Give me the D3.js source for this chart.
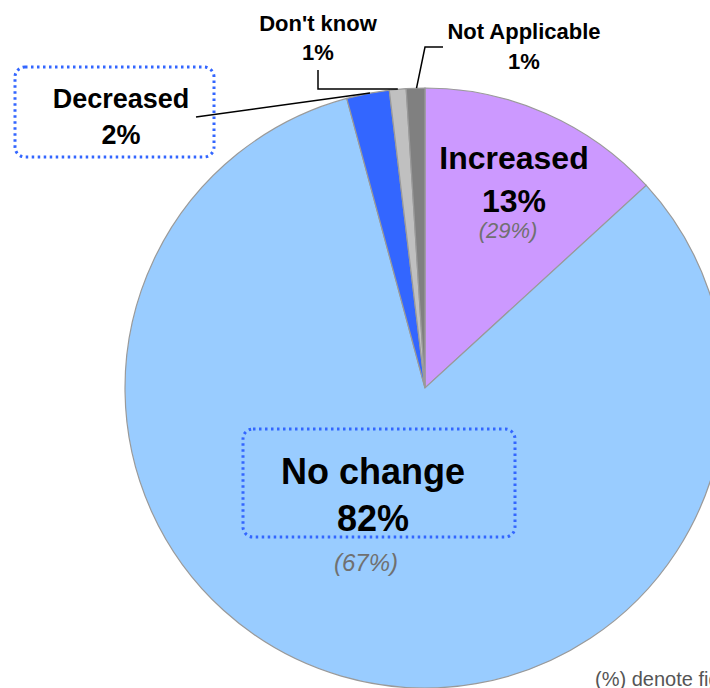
<!DOCTYPE html>
<html>
<head>
<meta charset="utf-8">
<script src="https://cdn.jsdelivr.net/npm/d3@7"></script>
<style>
    body { margin: 0; background: #fff; }
    svg { display: block; font-family: "Liberation Sans", Arial, sans-serif; }
</style>
</head>
<body>
<div id="chart"></div>
<script>
// data (clockwise from 12 o'clock)
const categories = ["Increased", "No change", "Decreased", "Don't know", "Not Applicable"];
const values = [13.2, 82.6, 2.3, 0.9, 1.0];
const shownPct = ["13%", "82%", "2%", "1%", "1%"];
const previousPct = ["(29%)", "(67%)", null, null, null];
const colors = ["#CC99FF", "#99CCFF", "#3366FF", "#C0C0C0", "#808080"];

const width = 710, height = 688;
const cx = 425, cy = 388, radius = 300;

const svg = d3.select("#chart").append("svg")
    .attr("width", width)
    .attr("height", height);

const slices = categories.map((c, i) => ({name: c, value: values[i], color: colors[i]}));

const pie = d3.pie().sort(null).value(d => d.value);
const arc = d3.arc().innerRadius(0).outerRadius(radius);
const arcs = pie(slices);

const g = svg.append("g").attr("transform", `translate(${cx},${cy})`);

g.selectAll("path")
    .data(arcs)
    .join("path")
    .attr("d", arc)
    .attr("fill", d => d.data.color)
    .attr("stroke", "#9a9a9a")
    .attr("stroke-width", 1.2);

// point on the rim at a fraction through a slice
function rim(i, t, r) {
    let a = arcs[i].startAngle + (arcs[i].endAngle - arcs[i].startAngle) * t;
    return [cx + Math.sin(a) * r, cy - Math.cos(a) * r];
}

// leader lines
let pDec = rim(2, 0.55, radius);
let pDk = rim(3, 0.5, radius - 1);
let pNa = rim(4, 0.55, radius);
const leaders = [
    [[196, 117], pDec],
    [[318, 70], [318, 89], [pDk[0], 89]],
    [pNa, [425, 47], [443, 47]]
];
svg.selectAll(".leader")
    .data(leaders)
    .join("path")
    .attr("class", "leader")
    .attr("d", d => d3.line()(d))
    .attr("fill", "none")
    .attr("stroke", "#000")
    .attr("stroke-width", 1.5);

// dotted boxes
const boxes = [
    {x: 15, y: 67, w: 199, h: 90},
    {x: 243, y: 429, w: 272, h: 108}
];
svg.selectAll(".box")
    .data(boxes)
    .join("rect")
    .attr("class", "box")
    .attr("x", d => d.x).attr("y", d => d.y)
    .attr("width", d => d.w).attr("height", d => d.h)
    .attr("rx", 10).attr("ry", 10)
    .attr("fill", "none")
    .attr("stroke", "#3366FF")
    .attr("stroke-width", 3)
    .attr("stroke-dasharray", "2.5 3.5");

// labels
const labels = [
    {i: 0, x: 514, y1: 169, y2: 212, size: 32, px: 508, py: 238, psize: 22},
    {i: 1, x: 373, y1: 484, y2: 531, size: 36, px: 366, py: 571, psize: 24},
    {i: 2, x: 121, y1: 108, y2: 144, size: 27},
    {i: 3, x: 318, y1: 31, y2: 60, size: 22},
    {i: 4, x: 524, y1: 39, y2: 69, size: 22}
];

labels.forEach(l => {
    let t = svg.append("text")
        .attr("text-anchor", "middle")
        .attr("font-weight", "bold")
        .attr("font-size", l.size)
        .attr("fill", "#000");
    t.append("tspan").attr("x", l.x).attr("y", l.y1).text(categories[l.i]);
    t.append("tspan").attr("x", l.x).attr("y", l.y2).text(shownPct[l.i]);

    if (previousPct[l.i]) {
        svg.append("text")
            .attr("x", l.px).attr("y", l.py)
            .attr("text-anchor", "middle")
            .attr("font-style", "italic")
            .attr("font-size", l.psize)
            .attr("fill", "#707070")
            .text(previousPct[l.i]);
    }
});

// footnote (runs off the right edge, as in the original)
svg.append("text")
    .attr("x", 595).attr("y", 686)
    .attr("font-size", 20)
    .attr("fill", "#555")
    .text("(%) denote figures from previous survey");
</script>
</body>
</html>
